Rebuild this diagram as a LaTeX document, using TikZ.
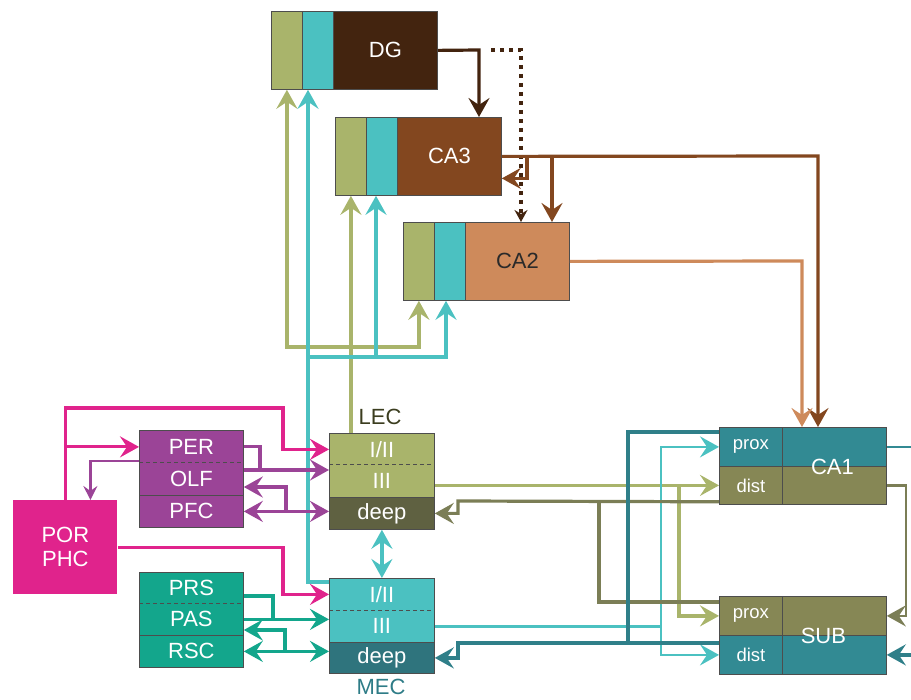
\documentclass[tikz,border=0pt]{standalone}
\usepackage{fontspec}
\setmainfont{Liberation Sans}
\usetikzlibrary{arrows.meta}

\definecolor{lecgreen}{HTML}{A9B46B}
\definecolor{meccyan}{HTML}{4BC1C1}
\definecolor{dgbrown}{HTML}{43240F}
\definecolor{cathree}{HTML}{83471F}
\definecolor{catwo}{HTML}{CE8A5B}
\definecolor{caone}{HTML}{328A93}
\definecolor{tealwire}{HTML}{2F7F89}
\definecolor{subolive}{HTML}{868755}
\definecolor{olivewire}{HTML}{7B7E56}
\definecolor{lecdeepc}{HTML}{5F6141}
\definecolor{mecdeepc}{HTML}{2F747D}
\definecolor{perpurple}{HTML}{9B4497}
\definecolor{prsgreen}{HTML}{13A68C}
\definecolor{pormag}{HTML}{E0238C}
\definecolor{edgegray}{HTML}{4D4D4D}
\definecolor{labeldark}{HTML}{2A2A2A}
\definecolor{lectext}{HTML}{3B3D1F}
\definecolor{mectext}{HTML}{2E7C87}

\newcommand{\regionfont}{\fontsize{22}{24}\selectfont}
\newcommand{\layerfont}{\fontsize{18.5}{20}\selectfont}

\tikzset{
  region/.style={rectangle, anchor=north west, inner sep=0pt, draw=edgegray, line width=0.8pt, text=white, font=\regionfont},
  layer/.style={region, draw=none},
  wire/.style={line width=3.2pt},
  thinwire/.style={line width=2.2pt},
}

\begin{document}
\begin{tikzpicture}[x=1pt, y=-1pt, >={Stealth[length=19pt,width=21pt,inset=7pt]}]
\useasboundingbox (0,0) rectangle (911,700);

% hippocampal fields, each with its two input strips
\foreach \n/\x/\y/\col/\txt/\lab in {dg/271/11/dgbrown/white/DG, ca3/335/117/cathree/white/CA3, ca2/403/222/catwo/labeldark/CA2} {
  \node[region, fill=lecgreen, minimum width=31pt, minimum height=78pt] (g\n) at (\x,\y) {};
  \node[region, fill=meccyan, minimum width=31pt, minimum height=78pt] (c\n) at (\x+31,\y) {};
  \node[region, fill=\col, text=\txt, minimum width=104pt, minimum height=78pt] (\n) at (\x+62,\y) {\lab};
}

% CA1 and subiculum
\node[region, fill=caone, font=\layerfont, minimum width=63pt, minimum height=39pt] (ca1p) at (719,427) {prox};
\node[region, fill=subolive, font=\layerfont, minimum width=63pt, minimum height=38pt] (ca1d) at (719,466) {dist};
\node[region, fill=caone, minimum width=104pt, minimum height=39pt] (ca1) at (782,427) {};
\node[region, fill=subolive, minimum width=104pt, minimum height=38pt] (ca1b) at (782,466) {};
\node[text=white, font=\regionfont] (ca1lab) at ([xshift=-2pt]ca1.south) {CA1};

\node[region, fill=subolive, font=\layerfont, minimum width=63pt, minimum height=39pt] (subp) at (719,596) {prox};
\node[region, fill=caone, font=\layerfont, minimum width=63pt, minimum height=39pt] (subd) at (719,635) {dist};
\node[region, fill=subolive, minimum width=104pt, minimum height=39pt] (sub) at (782,596) {};
\node[region, fill=caone, minimum width=104pt, minimum height=39pt] (subb) at (782,635) {};
\node[text=white, font=\regionfont] (sublab) at ([xshift=-11pt]sub.south) {SUB};

% entorhinal cortex
\node[layer, fill=lecgreen, minimum width=105pt, minimum height=32pt] (lec12) at (329,433) {I/II};
\node[layer, fill=lecgreen, minimum width=105pt, minimum height=32pt] (lec3) at (329,465) {III};
\node[layer, fill=lecdeepc, minimum width=105pt, minimum height=32pt] (lecdeep) at (329,497) {deep};
\node[layer, fill=meccyan, minimum width=105pt, minimum height=32pt] (mec12) at (329,578) {I/II};
\node[layer, fill=meccyan, minimum width=105pt, minimum height=32pt] (mec3) at (329,610) {III};
\node[layer, fill=mecdeepc, minimum width=105pt, minimum height=31pt] (mecdeep) at (329,642) {deep};
\node[font=\regionfont, text=lectext] (lecname) at (380,417) {LEC};
\node[font=\regionfont, text=mectext] (mecname) at (381,687) {MEC};

% cortical inputs
\node[layer, fill=perpurple, minimum width=104pt, minimum height=33pt] (per) at (139,430) {PER};
\node[layer, fill=perpurple, minimum width=104pt, minimum height=32pt] (olf) at (139,463) {OLF};
\node[layer, fill=perpurple, minimum width=104pt, minimum height=32pt] (pfc) at (139,495) {PFC};
\node[layer, fill=prsgreen, minimum width=104pt, minimum height=31pt] (prs) at (139,572) {PRS};
\node[layer, fill=prsgreen, minimum width=104pt, minimum height=32pt] (pas) at (139,603) {PAS};
\node[layer, fill=prsgreen, minimum width=104pt, minimum height=32pt] (rsc) at (139,635) {RSC};
\node[layer, fill=pormag, align=center, minimum width=104pt, minimum height=94pt] (por) at (13,500) {POR\\PHC};

\foreach \top/\mid/\bot in {lec12/lec3/lecdeep, mec12/mec3/mecdeep, per/olf/pfc, prs/pas/rsc} {
  \draw[edgegray, line width=0.8pt] (\top.north west) rectangle (\bot.south east);
  \draw[edgegray, line width=0.8pt] (\bot.north west) -- (\bot.north east);
  \draw[edgegray, line width=1pt, dash pattern=on 4pt off 3pt] (\mid.north west) -- (\mid.north east);
}

% DG output
\coordinate (dgsplit) at (479,50);
\coordinate (dgdot) at (521,50);
\draw[wire, dgbrown, ->] (dg.east) -- (dgsplit) -- (dgsplit |- ca3.north);
\draw[wire, dgbrown, dash pattern=on 4pt off 5pt, -{Stealth[length=12pt,width=13pt,inset=4pt]}] ([xshift=12pt]dgsplit) -- (dgdot) -- (dgdot |- ca2.north);

% CA3 output
\coordinate (ca3loop) at (527,156);
\coordinate (ca3down) at (552,156);
\coordinate (ca3far) at (818,156);
\draw[wire, cathree, ->] (ca3.east) -- (ca3far) -- (ca3far |- ca1.north);
\draw[wire, cathree, ->] (ca3loop) |- ([yshift=-22pt]ca3.east);
\draw[wire, cathree, ->] (ca3down) -- (ca3down |- ca2.north);

% CA2 output
\coordinate (ca2bend) at (802,261);
\draw[wire, catwo, ->] (ca2.east) -- (ca2bend) -- (ca2bend |- ca1.north);

% perforant path from LEC (green) and MEC (cyan)
\coordinate (grail) at (0,347);
\coordinate (crail) at (0,357);
\coordinate (cup) at ([xshift=6pt]cdg.south west);
\coordinate (cca3in) at ([xshift=10pt]cca3.south west);
\coordinate (cca2in) at ([xshift=12pt]cca2.south west);
\draw[wire, lecgreen, ->] (gca3.south |- lec12.north) -- (gca3.south);
\draw[wire, lecgreen, <->] (gdg.south) -- (gdg.south |- grail) -| (gca2.south);
\draw[wire, meccyan, ->] ([yshift=-4pt]mec12.north west) -| (cup);
\draw[wire, meccyan, ->] (cup |- crail) -| (cca2in);
\draw[wire, meccyan, ->] (cca3in |- crail) -- (cca3in);
\draw[wire, meccyan, <->] (lecdeep.south) -- (mec12.north);

% temporoammonic path
\coordinate (lsplit) at (679,0);
\coordinate (msplit) at (661,0);
\draw[wire, lecgreen, ->] (ca1d.west -| lec3.east) -- (ca1d.west);
\draw[wire, lecgreen, ->] (lsplit |- ca1d.west) |- (subp.west);
\draw[wire, meccyan, line width=2.6pt] (mec3.east) -- (mec3.east -| msplit);
\draw[wire, meccyan, line width=2.6pt, <->] (ca1p.west) -- (ca1p.west -| msplit) |- (subd.west);

% back projections to deep layers
\coordinate (orail) at (458,501);
\coordinate (osplit) at (599,0);
\coordinate (trail) at (458,643);
\coordinate (tsplit) at (628,643);
\draw[wire, olivewire, ->] ([yshift=3pt]ca1d.south west) -- (orail) |- (lecdeep.east);
\draw[wire, olivewire] ([yshift=-6pt]subp.north west) -| (osplit |- orail);
\draw[wire, tealwire, ->] ([yshift=-8pt]subd.north west) -- (trail) |- (mecdeep.east);
\draw[wire, tealwire] ([yshift=-5pt]ca1p.north west) -| (tsplit);

% CA1 and SUB on the right
\coordinate (rim) at (911,0);
\coordinate (rbend) at (906,0);
\draw[wire, caone, line width=2.6pt] (ca1.east) -- (ca1.east -| rim);
\draw[wire, olivewire, line width=2.6pt, ->] (ca1b.east) -| (rbend |- sub.east) -- (sub.east);
\draw[wire, tealwire, ->] (subb.east -| rim) -- (subb.east);

% POR/PHC
\coordinate (pkrail) at (283,408);
\coordinate (pkbend) at (283,0);
\draw[wire, pormag, ->] (por.north) |- (pkrail) |- (lec12.west);
\draw[wire, pormag, ->] (por.north |- per.west) -- (per.west);
\draw[wire, pormag, ->] (por.east) -| (pkbend |- mec12.west) -- (mec12.west);

% PER/OLF/PFC
\coordinate (olfrail) at (260,470);
\coordinate (pfcrail) at (286,487);
\draw[thinwire, perpurple, -{Stealth[length=14pt,width=14pt,inset=5pt]}] ([yshift=3pt]per.south west) -| ([xshift=25pt]por.north);
\draw[wire, perpurple] (per.east) -| (olfrail);
\draw[wire, perpurple, ->] (olf.east |- olfrail) -- (lec3.west |- olfrail);
\draw[wire, perpurple, <->] (pfc.east) -- (pfc.east -| lecdeep.west);
\draw[wire, perpurple, ->] (pfcrail |- pfc.east) |- (olf.east |- pfcrail);

% PRS/PAS/RSC
\coordinate (pasrail) at (273,0);
\coordinate (rscrail) at (285,630);
\draw[wire, prsgreen] ([yshift=-8pt]prs.east) -| (pasrail |- pas.east);
\draw[wire, prsgreen, ->] (pas.east) -- (pas.east -| mec3.west);
\draw[wire, prsgreen, <->] (rsc.east) -- (rsc.east -| mecdeep.west);
\draw[wire, prsgreen, ->] (rscrail |- rsc.east) |- (pas.east |- rscrail);
\end{tikzpicture}
\end{document}
